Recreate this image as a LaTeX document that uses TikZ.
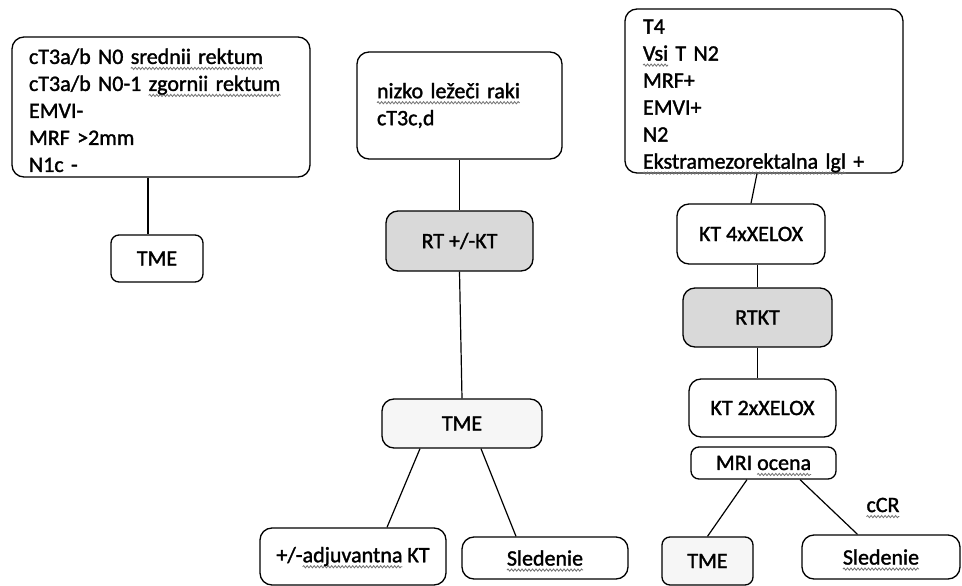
\documentclass[tikz,border=0pt]{standalone}
\usepackage{fontspec}
\setmainfont[FakeBold=1.5]{Carlito}
\usetikzlibrary{decorations.pathmorphing}
\newlength\sqw
\newcommand\squig[1]{\settowidth\sqw{#1}\leavevmode\rlap{\tikz[overlay,baseline=0pt,x=1pt,y=1pt]\draw[sharp corners,draw=black!55,line width=0.8pt,decorate,decoration={snake,amplitude=1.1pt,segment length=3.5pt}] (0,-4.5) -- (\the\sqw,-4.5);}#1}
\tikzset{
  box/.style={draw=black, line width=1.3pt, rounded corners=12pt, fill=white,
    font=\fontsize{22}{27}\selectfont, align=center, inner sep=0pt},
  multibox/.style={box, align=left, inner xsep=17pt},
  smallbox/.style={box, rounded corners=8pt},
  darkbox/.style={box, fill=gray!30},
  lightbox/.style={box, fill=gray!7},
  conn/.style={line width=1.2pt},
  plain/.style={font=\fontsize{22}{27}\selectfont, inner sep=0pt}
}
\begin{document}
\begin{tikzpicture}[x=1pt,y=-1pt]
\useasboundingbox (0,0) rectangle (962,586);
% left column
\node[multibox, minimum width=298pt, minimum height=140pt, text width=264pt] (b1) at (161,107)
  {\rule{0pt}{22pt}cT3a/b N0 \squig{srednii rektum}\\cT3a/b N0-1 \squig{zgornii rektum}\\EMVI-\\MRF >2mm\\N1c -};
\node[smallbox, minimum width=92pt, minimum height=47pt] (tme1) at (157,258.5) {TME};
% middle column
\node[multibox, minimum width=205pt, minimum height=107pt, text width=165pt, inner xsep=20pt] (b2) at (459.5,105.5)
  {\squig{nizko ležeči raki}\\cT3c,d};
\node[darkbox, minimum width=147pt, minimum height=60pt] (rt) at (459.5,241) {RT +/-KT};
\node[lightbox, minimum width=160pt, minimum height=49pt] (tme2) at (462,423.5) {TME};
\node[box, minimum width=186pt, minimum height=57pt] (adj) at (353,556.5) {+/-\squig{adjuvantna} KT};
\node[box, minimum width=166pt, minimum height=42pt] (sl1) at (545,558) {\squig{Sledenie}};
% right column
\node[multibox, minimum width=278pt, minimum height=164pt, text width=242pt, inner xsep=18pt] (b3) at (764,91)
  {\rule{0pt}{24pt}T4\\\squig{Vsi} T N2\\MRF+\\EMVI+\\N2\\\squig{Ekstramezorektalna lgl} +};
\node[box, minimum width=148pt, minimum height=60pt] (kt4) at (751,234) {KT 4xXELOX};
\node[darkbox, minimum width=149pt, minimum height=59pt] (rtkt) at (757.5,317.5) {RTKT};
\node[box, minimum width=147pt, minimum height=58pt] (kt2) at (762.5,408) {KT 2xXELOX};
\node[smallbox, minimum width=145pt, minimum height=32pt] (mri) at (763.5,463) {MRI \squig{ocena}};
\node[lightbox, rounded corners=8pt, minimum width=91pt, minimum height=48pt] (tme3) at (707.5,561) {TME};
\node[box, minimum width=158pt, minimum height=44pt] (sl2) at (881,557) {\squig{Sledenie}};
\node[plain] (ccr) at (883,505) {\squig{cCR}};
% connectors
\draw[conn] ([xshift=-9pt]tme1.north |- b1.south) -- ([xshift=-9pt]tme1.north);
\draw[conn] (b2.south) -- (rt.north);
\draw[conn] (rt.south) -- (tme2.north);
\draw[conn] ([xshift=-42pt]tme2.south) -- ([xshift=34pt]adj.north);
\draw[conn] ([xshift=19pt]tme2.south) -- ([xshift=-29pt]sl1.north);
\draw[conn] ([xshift=-7pt]b3.south) -- (kt4.north);
\draw[conn] (rtkt.north |- kt4.south) -- (rtkt.north);
\draw[conn] (rtkt.south) -- (rtkt.south |- kt2.north);
\draw[conn] ([xshift=-16.5pt]mri.south) -- (tme3.north);
\draw[conn] ([xshift=36.5pt]mri.south) -- ([xshift=-23.5pt]sl2.north);
\end{tikzpicture}
\end{document}
